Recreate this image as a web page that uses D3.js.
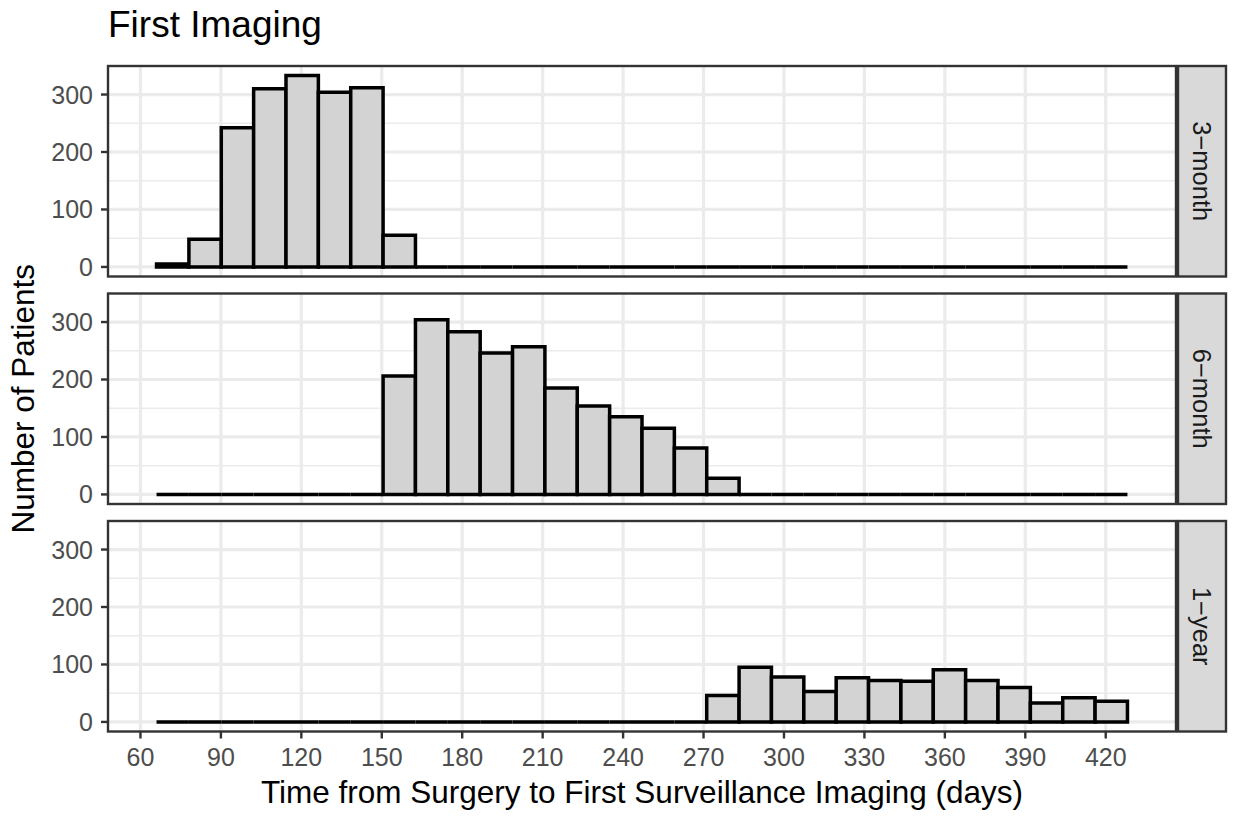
<!DOCTYPE html>
<html>
<head>
<meta charset="utf-8">
<script src="https://cdn.jsdelivr.net/npm/d3@7"></script>
<style>
  body { margin: 0; background: #fff; }
  text { font-family: "Liberation Sans", Arial, sans-serif; }
</style>
</head>
<body>
<svg width="1233" height="816"></svg>
<script>
// histogram bins (30 bins, ggplot default)
var binStart = 66;
var binWidth = 12.07;
var facets = ["3\u2212month", "6\u2212month", "1\u2212year"];
var threeMonth = [5, 48, 242, 310, 333, 304, 312, 55, 0, 0, 0, 0, 0, 0, 0, 0, 0, 0, 0, 0, 0, 0, 0, 0, 0, 0, 0, 0, 0, 0];
var sixMonth = [0, 0, 0, 0, 0, 0, 0, 206, 304, 283, 246, 257, 185, 154, 135, 115, 81, 28, 0, 0, 0, 0, 0, 0, 0, 0, 0, 0, 0, 0];
var oneYear = [0, 0, 0, 0, 0, 0, 0, 0, 0, 0, 0, 0, 0, 0, 0, 0, 0, 46, 95, 78, 53, 77, 72, 71, 91, 72, 60, 33, 42, 36];
var xTicks = [60, 90, 120, 150, 180, 210, 240, 270, 300, 330, 360, 390, 420];
var yTicks = [0, 100, 200, 300];
var yMinor = [50, 150, 250];

var allCounts = [threeMonth, sixMonth, oneYear];

var svg = d3.select("svg");
var panelLeft = 108, panelRight = 1176, panelH = 210.5;
var panelTops = [66, 293.5, 521];
var stripW = 48;

var binEnd = binStart + binWidth * 30;
var span = binEnd - binStart;
var x = d3.scaleLinear()
  .domain([binStart - span * 0.05, binEnd + span * 0.05])
  .range([panelLeft, panelRight]);

var yMax = d3.max(allCounts, function(c) { return d3.max(c); });

facets.forEach(function(name, i) {
  var top = panelTops[i];
  var y = d3.scaleLinear()
    .domain([-yMax * 0.05, yMax * 1.05])
    .range([top + panelH, top]);
  var g = svg.append("g");

  // grid
  g.selectAll(".minor").data(yMinor).enter().append("line")
    .attr("x1", panelLeft).attr("x2", panelRight)
    .attr("y1", function(d) { return y(d); }).attr("y2", function(d) { return y(d); })
    .style("stroke", "#EBEBEB").style("stroke-width", 1.6);
  g.selectAll(".majorY").data(yTicks).enter().append("line")
    .attr("x1", panelLeft).attr("x2", panelRight)
    .attr("y1", function(d) { return y(d); }).attr("y2", function(d) { return y(d); })
    .style("stroke", "#EBEBEB").style("stroke-width", 3.2);
  g.selectAll(".majorX").data(xTicks).enter().append("line")
    .attr("x1", function(d) { return x(d); }).attr("x2", function(d) { return x(d); })
    .attr("y1", top).attr("y2", top + panelH)
    .style("stroke", "#EBEBEB").style("stroke-width", 3.2);

  // bars
  var bins = allCounts[i].map(function(c, k) {
    return {x0: binStart + k * binWidth, x1: binStart + (k + 1) * binWidth, n: c};
  });
  g.selectAll(".bar").data(bins).enter().append("path")
    .attr("d", function(d) {
      var a = x(d.x0), b = x(d.x1), y0 = y(0), y1 = y(d.n);
      return "M" + a + "," + y0 + "H" + b + "V" + y1 + "H" + a + "Z";
    })
    .style("fill", "#D3D3D3")
    .style("stroke", "#000")
    .style("stroke-width", 3.5)
    .style("stroke-linejoin", "miter");

  // border
  g.append("rect")
    .attr("x", panelLeft).attr("y", top)
    .attr("width", panelRight - panelLeft).attr("height", panelH)
    .style("fill", "none").style("stroke", "#333333").style("stroke-width", 2.4);

  // y axis
  g.selectAll(".yt").data(yTicks).enter().append("line")
    .attr("x1", panelLeft - 7).attr("x2", panelLeft)
    .attr("y1", function(d) { return y(d); }).attr("y2", function(d) { return y(d); })
    .style("stroke", "#333333").style("stroke-width", 2.4);
  g.selectAll(".yl").data(yTicks).enter().append("text")
    .attr("x", panelLeft - 15)
    .attr("y", function(d) { return y(d); })
    .attr("dy", "0.36em")
    .attr("text-anchor", "end")
    .style("font-size", "25px")
    .style("fill", "#4D4D4D")
    .text(function(d) { return d; });

  // strip
  g.append("rect")
    .attr("x", panelRight + 2).attr("y", top)
    .attr("width", stripW).attr("height", panelH)
    .style("fill", "#D9D9D9").style("stroke", "#333333").style("stroke-width", 2.4);
  g.append("text")
    .attr("transform", "translate(" + (panelRight + 2 + stripW / 2) + "," + (top + panelH / 2) + ") rotate(90)")
    .attr("text-anchor", "middle")
    .attr("dy", "0.36em")
    .style("font-size", "25.5px")
    .style("fill", "#1A1A1A")
    .text(name);
});

// x axis under last panel
var bottom = panelTops[2] + panelH;
svg.selectAll(".xt").data(xTicks).enter().append("line")
  .attr("x1", function(d) { return x(d); }).attr("x2", function(d) { return x(d); })
  .attr("y1", bottom).attr("y2", bottom + 7)
  .style("stroke", "#333333").style("stroke-width", 2.4);
svg.selectAll(".xl").data(xTicks).enter().append("text")
  .attr("x", function(d) { return x(d); })
  .attr("y", 766)
  .attr("text-anchor", "middle")
  .style("font-size", "25px")
  .style("fill", "#4D4D4D")
  .text(function(d) { return d; });

// titles
svg.append("text")
  .attr("x", (panelLeft + panelRight) / 2)
  .attr("y", 803)
  .attr("text-anchor", "middle")
  .style("font-size", "31.5px")
  .style("fill", "#000")
  .text("Time from Surgery to First Surveillance Imaging (days)");
svg.append("text")
  .attr("transform", "translate(33.5," + ((panelTops[0] + bottom) / 2) + ") rotate(-90)")
  .attr("text-anchor", "middle")
  .style("font-size", "31.5px")
  .style("fill", "#000")
  .text("Number of Patients");
svg.append("text")
  .attr("x", panelLeft)
  .attr("y", 37)
  .style("font-size", "37px")
  .style("fill", "#000")
  .text("First Imaging");
</script>
</body>
</html>
